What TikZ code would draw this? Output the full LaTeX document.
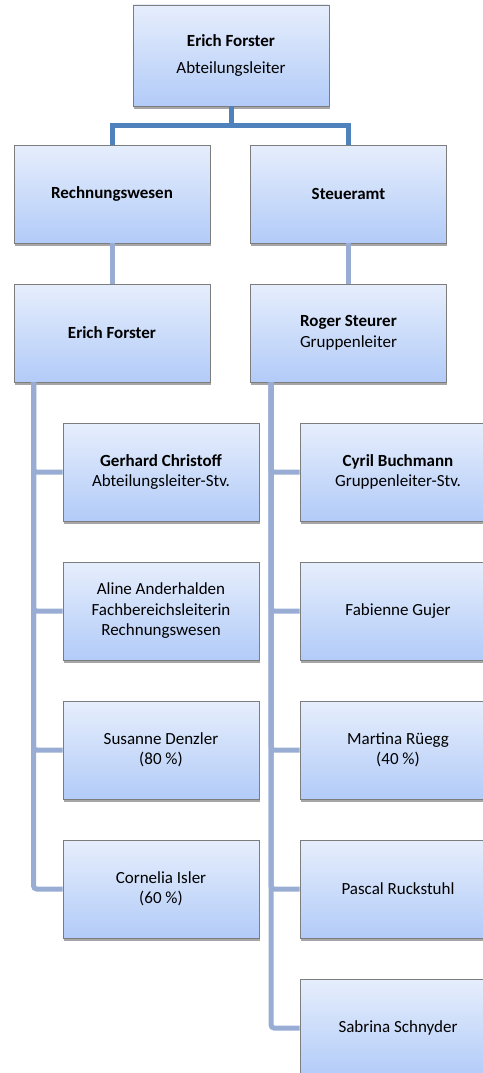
\documentclass[tikz,border=0pt]{standalone}
\usepackage{fontspec}
\setmainfont{Carlito}
\usetikzlibrary{shadows}
\definecolor{boxtop}{RGB}{230,238,252}
\definecolor{boxbot}{RGB}{178,203,248}
\definecolor{boxframe}{RGB}{125,125,125}
\colorlet{headcol}{blue!45!cyan!40!black!100}
\definecolor{headcol}{RGB}{79,129,189}
\definecolor{subcol}{RGB}{152,172,212}
\tikzstyle{orgbox}=[draw=boxframe,line width=0.8pt,top color=boxtop,bottom color=boxbot,
                    minimum width=196,minimum height=98,align=center,
                    font=\fontsize{17}{20.5}\selectfont,
                    drop shadow={shadow xshift=0.8pt,shadow yshift=-2.5pt,opacity=0.35,fill=black}]
\tikzset{
  headline/.style={line width=5pt,headcol},
  subline/.style={line width=5pt,subcol,rounded corners=3pt}}

\begin{document}
\begin{tikzpicture}[x=1pt,y=-1pt]
  \def\dy{139}
  \def\xl{161}
  \def\xr{398}
  \useasboundingbox (0,0) rectangle (482,1073);

  % HEAD AND DEPARTMENTS
  \node[orgbox,minimum height=101] (chef) at (231,55.5)
    {\textbf{Erich Forster}\\[7pt]Abteilungsleiter};
  \node[orgbox] (rw) at (112,194) {\textbf{Rechnungswesen}};
  \node[orgbox] (st) at (348.5,194) {\textbf{Steueramt}};
  \node[orgbox] (rwlead) at (112,333) {\textbf{Erich Forster}};
  \node[orgbox] (stlead) at (348.5,333) {\textbf{Roger Steurer}\\Gruppenleiter};

  % STAFF
  \foreach \i/\txt [evaluate=\i as \ypos using 472+(\i-1)*\dy] in
    {1/{\textbf{Gerhard Christoff}\\Abteilungsleiter-Stv.},
     2/{Aline Anderhalden\\Fachbereichsleiterin\\Rechnungswesen},
     3/{Susanne Denzler\\(80 \%)},
     4/{Cornelia Isler\\(60 \%)}}{
    \node[orgbox] (rw\i) at (\xl,\ypos) {\txt};
  }
  \foreach \i/\txt [evaluate=\i as \ypos using 472+(\i-1)*\dy] in
    {1/{\textbf{Cyril Buchmann}\\Gruppenleiter-Stv.},
     2/{Fabienne Gujer},
     3/{Martina Rüegg\\(40 \%)},
     4/{Pascal Ruckstuhl},
     5/{Sabrina Schnyder}}{
    \node[orgbox] (st\i) at (\xr,\ypos) {\txt};
  }

  % CONNECTIONS
  \coordinate (bar) at (231,125);
  \draw[headline] (chef.south) -- (bar);
  \draw[headline] (rw.north) |- (bar) -| (st.north);
  \draw[subline] (rw.south) -- (rwlead.north);
  \draw[subline] (st.south) -- (stlead.north);
  \foreach \i in {1,...,4}
    \draw[subline] ([xshift=20pt]rwlead.south west) |- (rw\i.west);
  \foreach \i in {1,...,5}
    \draw[subline] ([xshift=21pt]stlead.south west) |- (st\i.west);

\end{tikzpicture}
\end{document}
